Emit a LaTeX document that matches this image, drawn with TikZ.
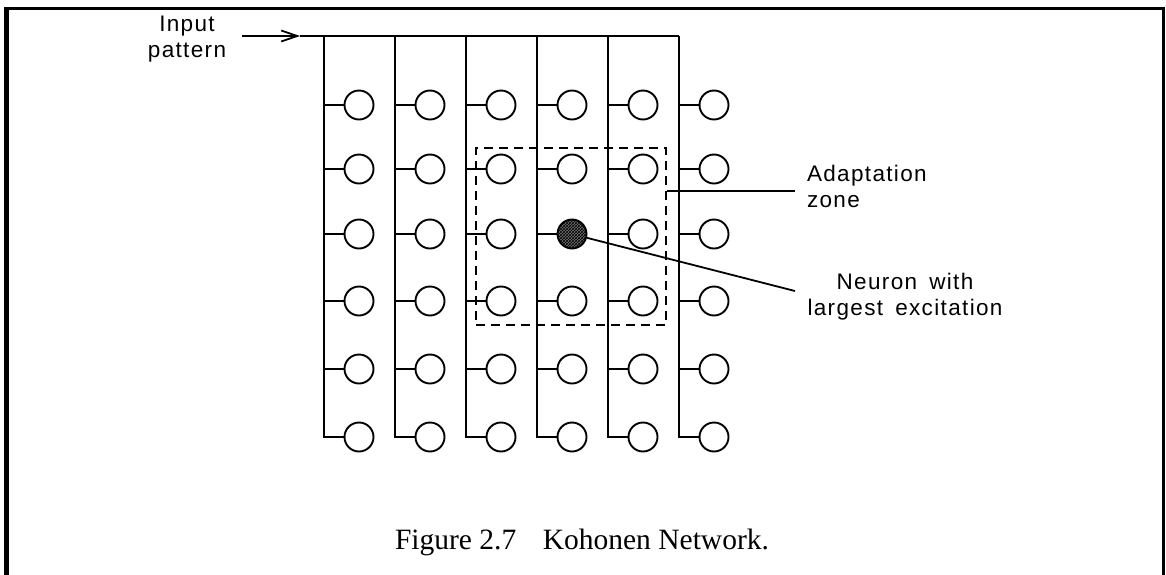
\documentclass[tikz,border=0pt]{standalone}
\usepackage{fontspec}
\setmainfont{Liberation Serif}
\newfontfamily\lblfont[LetterSpace=6,WordSpace=1.6]{Liberation Sans}
\usetikzlibrary{arrows.meta,patterns}
\begin{document}
\begin{tikzpicture}[x=1pt,y=-1pt,line width=2pt,
  neuron/.style={circle,draw,line width=1.9pt,minimum size=29pt,inner sep=0pt},
  hot/.style={preaction={fill=black!55},pattern=crosshatch,pattern color=black},
  nstyle43/.style={hot},
  lbl/.style={font=\lblfont\fontsize{22.5}{26}\selectfont,inner sep=0pt},
  zonebox/.style={draw,line width=1.8pt,dash pattern=on 9pt off 6pt,inner sep=0pt},
  caption/.style={font=\fontsize{29.5}{32}\selectfont,inner sep=0pt}]
\useasboundingbox (0,0) rectangle (1166,574);
% frame
\draw[line width=5pt] (6.5,7) -- (6.5,580);
\draw[line width=3pt] (4,8.5) -- (1164.5,8.5);
\draw[line width=3pt] (1163,7) -- (1163,580);
% grid of neurons
\foreach \c/\x in {1/324,2/395,3/466,4/537,5/608,6/679} {
  \coordinate (t\c) at (\x,36);
  \foreach \r/\y in {1/105,2/169,3/234,4/301,5/369,6/437} {
    \node[neuron,/tikz/nstyle\c\r/.try] (n\c\r) at (\x+35,\y) {};
    \coordinate (s\c\r) at (\x,\y);
  }
}
\foreach \c in {1,...,6} {
  \draw (t\c) -- (s\c6) -- (n\c6.west);
  \foreach \r in {1,...,5} \draw (s\c\r) -- (n\c\r.west);
}
% input bus
\coordinate (bs) at (300,36);
\coordinate (ai) at (242,36);
\draw (bs) -- (t6);
\draw[line width=1.8pt,-{Straight Barb[length=16pt,width=11pt]}] (ai) -- (bs);
\node[lbl,align=center,anchor=north] (inp) at (187,15) {Input\\pattern};
% adaptation zone
\node[zonebox,minimum width=190pt,minimum height=177pt] (zone) at (571,236.5) {};
\node[lbl,align=left,anchor=north west] (azl) at (806,164) {Adaptation\\zone};
\coordinate (az) at (795,191);
\draw[line width=1.8pt] (zone.east |- az) -- (az);
% winning neuron
\node[lbl,align=center,anchor=north] (nwl) at (905,272) {Neuron with\\largest excitation};
\coordinate (nl) at (795,291);
\draw[line width=1.8pt] (n43) -- (nl);
% caption
\node[caption,anchor=base] (cap) at (582,549) {Figure 2.7\hspace{0.9em}Kohonen Network.};
\end{tikzpicture}
\end{document}
